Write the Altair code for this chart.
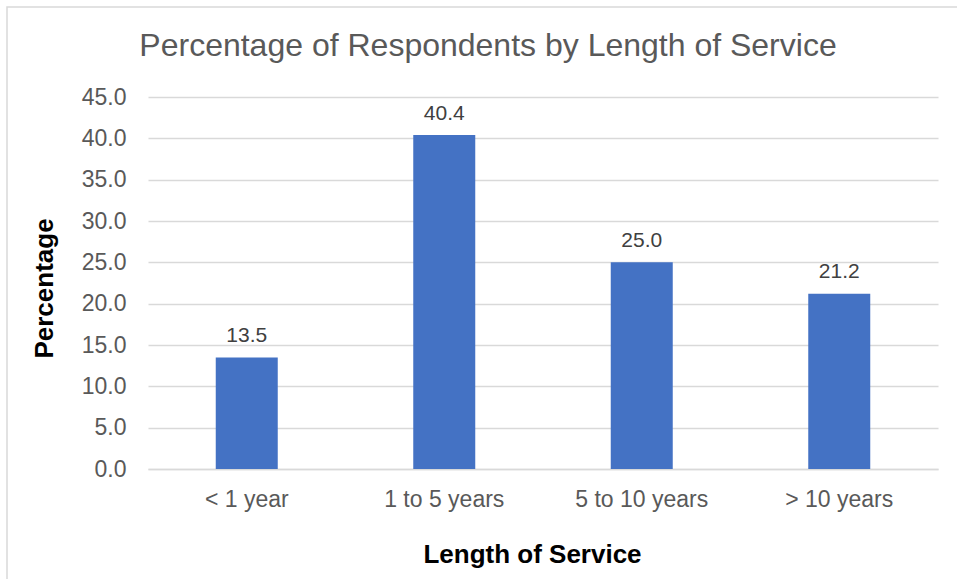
import altair as alt
import pandas as pd

# Survey results: share of respondents in each length-of-service group
categories = ["< 1 year", "1 to 5 years", "5 to 10 years", "> 10 years"]
percentages = [13.5, 40.4, 25.0, 21.2]

df = pd.DataFrame({"service": categories, "pct": percentages})

FONT = "Liberation Sans"
GREY = "#595959"
GRID = "#d9d9d9"

base = alt.Chart(df).encode(
    x=alt.X(
        "service:N",
        sort=categories,
        scale=alt.Scale(paddingInner=0, paddingOuter=0),
        axis=alt.Axis(
            title="Length of Service",
            labelAngle=0,
            labelFontSize=23,
            labelColor=GREY,
            labelPadding=19,
            ticks=False,
            domainColor=GRID,
            domainWidth=1.5,
            titleFontSize=26,
            titleFontWeight="bold",
            titleColor="#000000",
            titleBaseline="alphabetic",
            titleX=384,
            titleY=93.5,
        ),
    ),
    y=alt.Y(
        "pct:Q",
        scale=alt.Scale(domain=[0, 45], nice=False),
        axis=alt.Axis(
            title="Percentage",
            values=[0, 5, 10, 15, 20, 25, 30, 35, 40, 45],
            format=".1f",
            labelFontSize=23,
            labelColor=GREY,
            labelPadding=22,
            ticks=False,
            domain=False,
            gridColor=GRID,
            gridWidth=1.5,
            titleFontSize=26,
            titleFontWeight="bold",
            titleColor="#000000",
            titleAngle=-90,
            titleBaseline="alphabetic",
            titleAlign="center",
            titleX=-96,
            titleY=191,
        ),
    ),
)

bars = base.mark_bar(size=62, color="#4472C4")

labels = base.mark_text(
    baseline="alphabetic",
    dy=-15.5,
    fontSize=21,
    color="#404040",
    font=FONT,
).encode(text=alt.Text("pct:Q", format=".1f"))

# Thin outline framing the chart area
frame = alt.Chart(pd.DataFrame({"k": [0]})).mark_rect(
    fill=None, stroke=GRID, strokeWidth=1.5
).encode(
    x=alt.value(-141),
    x2=alt.value(830),
    y=alt.value(-90),
    y2=alt.value(600),
)

chart = (
    alt.layer(frame, bars, labels)
    .properties(
        width=790,
        height=372,
        title=alt.TitleParams(
            "Percentage of Respondents by Length of Service",
            fontSize=32,
            fontWeight="normal",
            color=GREY,
            font=FONT,
            anchor="middle",
            frame="group",
            baseline="alphabetic",
            offset=-82,
            dx=-55,
        ),
        autosize=alt.AutoSizeParams(type="none"),
        padding={"left": 148, "top": 97, "right": 19, "bottom": 110},
    )
    .configure(font=FONT, background="white")
    .configure_view(stroke=None)
)

chart.save("out.html", embed_options={"renderer": "svg", "actions": False})
